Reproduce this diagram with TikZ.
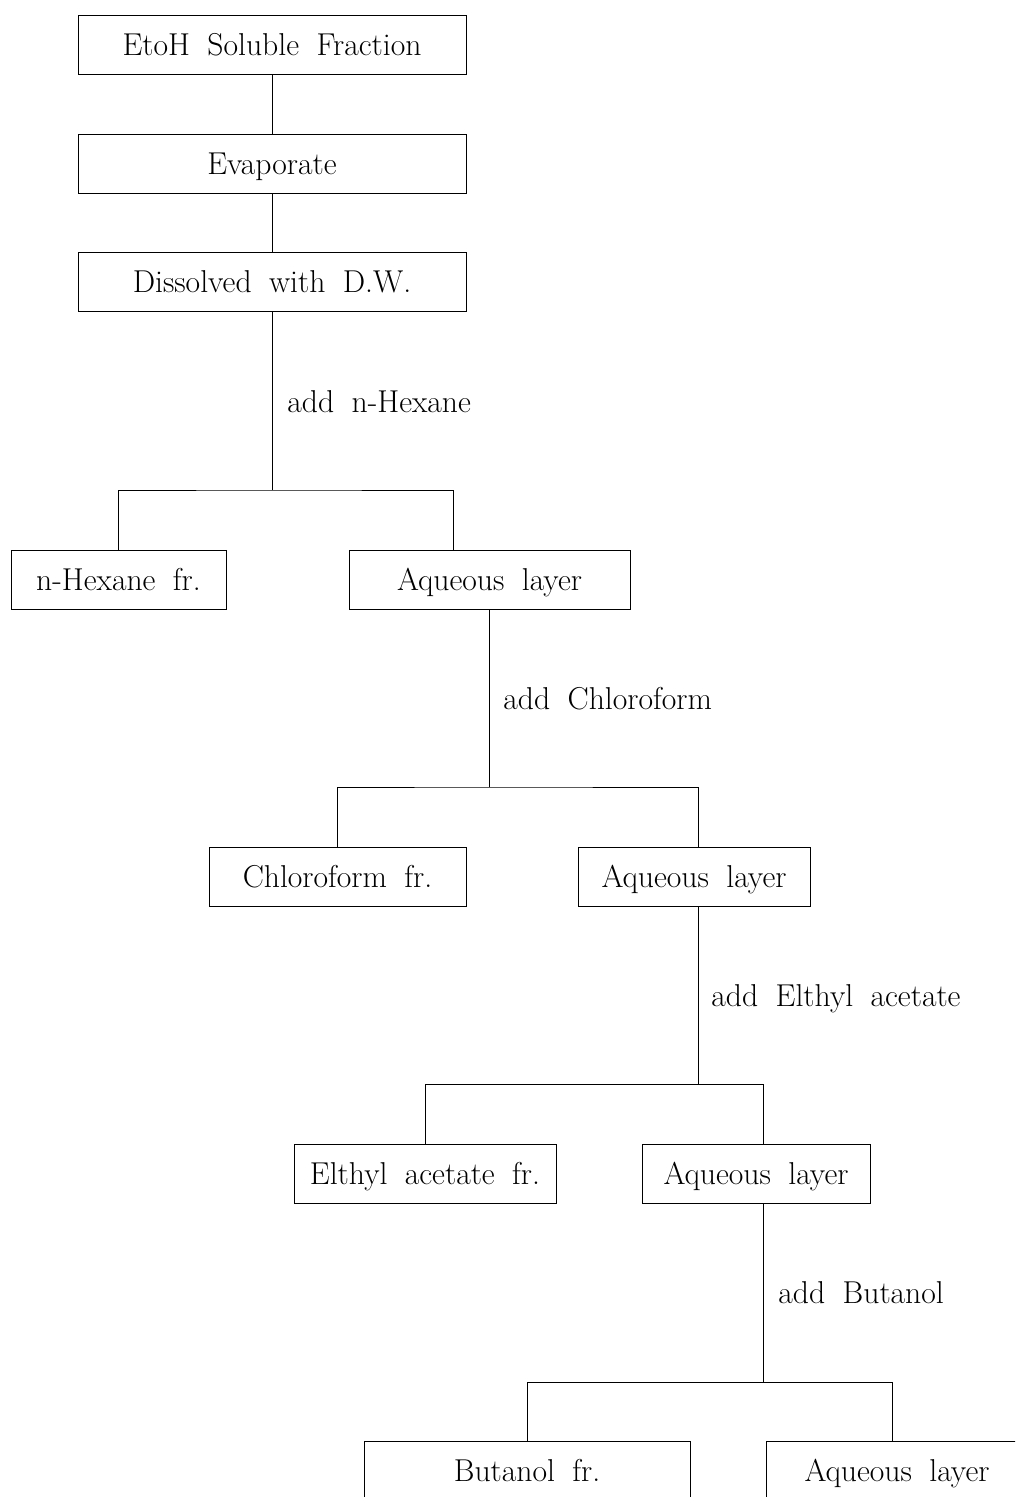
\documentclass[tikz,border=0pt]{standalone}
\usepackage{tikz}
\usetikzlibrary{positioning, calc}
\newcommand{\flowfont}{\fontsize{18}{22}\selectfont\spaceskip=0.55em plus 0.1em\relax}

\begin{document}
\begin{tikzpicture}[x=0.02cm, y=-0.02cm, line width=0.5pt,
  box/.style={draw, minimum height=1.18cm, inner sep=0pt, align=center,
    text height=15pt, text depth=3pt, font=\flowfont},
  lbl/.style={anchor=west, inner sep=0pt, text height=15pt, text depth=3pt, font=\flowfont}]
  \clip (0,0) rectangle (1015,1497);

  % main column
  \node[box, minimum width=7.76cm] (etoh) at (272,44.5) {EtoH Soluble Fraction};
  \node[box, minimum width=7.76cm] (evap) at (272,163.5) {Evaporate};
  \node[box, minimum width=7.76cm] (diss) at (272,282) {Dissolved with D.W.};

  % first split
  \node[box, minimum width=4.30cm] (hex) at (118.5,579.5) {n-Hexane fr.};
  \node[box, minimum width=5.62cm] (aq1) at (489.5,579.5) {Aqueous layer};
  \coordinate (j1) at (272,490);
  \coordinate (j1r) at (453,490);

  % second split
  \node[box, minimum width=5.14cm] (chl) at (337.5,876.5) {Chloroform fr.};
  \node[box, minimum width=4.64cm] (aq2) at (694,876.5) {Aqueous layer};
  \coordinate (j2) at (489.5,787);
  \coordinate (j2r) at (698,787);

  % third split
  \node[box, minimum width=5.24cm] (eth) at (425,1173.5) {Elthyl acetate fr.};
  \node[box, minimum width=4.56cm] (aq3) at (756,1173.5) {Aqueous layer};
  \coordinate (j3) at (698,1084);
  \coordinate (j3r) at (763,1084);

  % fourth split
  \node[box, minimum width=6.52cm] (but) at (527,1470.5) {Butanol fr.};
  \node[box, minimum width=5.24cm] (aq4) at (897,1470.5) {Aqueous layer};
  \coordinate (j4) at (763,1382);
  \coordinate (j4r) at (892,1382);

  \draw (etoh) -- (evap);
  \draw (evap) -- (diss);

  \draw (diss.south) -- (j1);
  \draw (hex.north) |- (j1) -- (j1r) -- (j1r |- aq1.north);
  \node[lbl] (addhex) at (287,402) {add n-Hexane};

  \draw (aq1.south) -- (j2);
  \draw (chl.north) |- (j2) -- (j2r) -- (j2r |- aq2.north);
  \node[lbl] (addchl) at (503,699) {add Chloroform};

  \draw (j2r |- aq2.south) -- (j3);
  \draw (eth.north) |- (j3) -- (j3r) -- (j3r |- aq3.north);
  \node[lbl] (addeth) at (711,996) {add Elthyl acetate};

  \draw (j3r |- aq3.south) -- (j4);
  \draw (but.north) |- (j4) -- (j4r) -- (j4r |- aq4.north);
  \node[lbl] (addbut) at (778,1293) {add Butanol};
\end{tikzpicture}
\end{document}
